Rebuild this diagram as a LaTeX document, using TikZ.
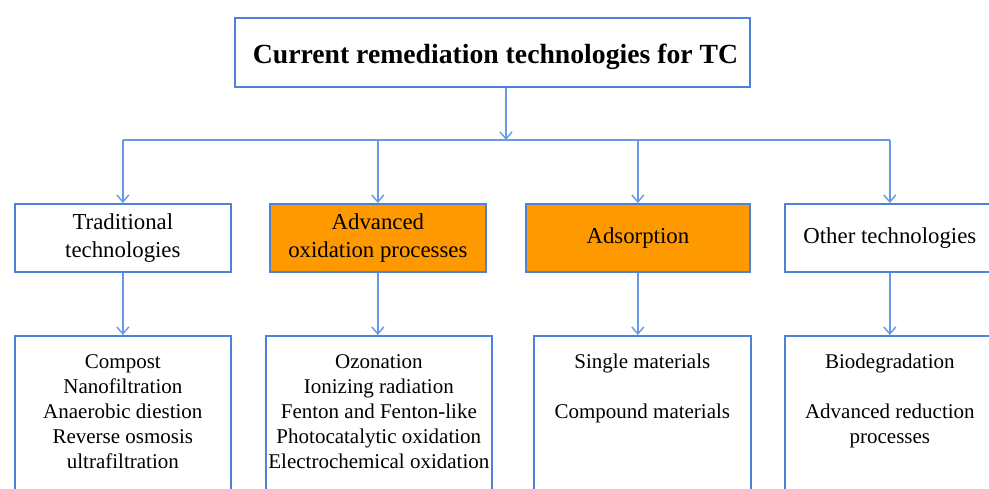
\documentclass[tikz,border=0pt]{standalone}
\usepackage{fontspec}
\setmainfont{Liberation Serif}
\usetikzlibrary{arrows.meta}
\definecolor{bordblue}{RGB}{79,129,217}
\definecolor{linkblue}{RGB}{105,152,230}
\definecolor{aoporange}{RGB}{255,153,0}
\begin{document}
\begin{tikzpicture}[x=1pt,y=-1pt,
  box/.style={draw=bordblue, line width=1.7pt, anchor=north west, inner sep=0pt, align=center},
  lvltwo/.style={box, minimum height=68pt, font=\fontsize{22.8}{28}\selectfont},
  lvlthree/.style={box, minimum height=200pt},
  link/.style={draw=linkblue, line width=1.4pt},
  arr/.style={link, -{Straight Barb[length=7pt,width=12pt,line width=1.4pt]}},
  items/.style={anchor=north, align=center, inner sep=0pt, font=\fontsize{21}{25}\selectfont}]
\useasboundingbox (0,0) rectangle (989,488);
\clip (0,0) rectangle (989,488);
\fill[white] (0,0) rectangle (989,488);

\node[box, line width=2pt, minimum width=515pt, minimum height=69pt,
      text height=27pt, text depth=6pt,
      font=\fontsize{27.7}{32}\selectfont\bfseries] (top) at (234,17)
      {\hspace{6pt}Current remediation technologies for TC};

\node[lvltwo, minimum width=216pt] (t1) at (14,203) {Traditional\\technologies};
\node[lvltwo, minimum width=216pt, fill=aoporange] (t2) at (269,203) {Advanced\\oxidation processes};
\node[lvltwo, minimum width=224pt, fill=aoporange] (t3) at (525,203) {Adsorption};
\node[lvltwo, minimum width=210pt] (t4) at (784,203) {Other technologies};

\node[lvlthree, minimum width=216pt] (b1) at (14,335) {};
\node[lvlthree, minimum width=226pt] (b2) at (265,335) {};
\node[lvlthree, minimum width=217pt] (b3) at (533,335) {};
\node[lvlthree, minimum width=210pt] (b4) at (784,335) {};

\node[items] (i1) at ([yshift=-19pt]b1.north) {Compost\\Nanofiltration\\Anaerobic diestion\\Reverse osmosis\\ultrafiltration};
\node[items] (i2) at ([yshift=-19pt]b2.north) {Ozonation\\Ionizing radiation\\Fenton and Fenton-like\\Photocatalytic oxidation\\Electrochemical oxidation};
\node[items] (i3) at ([yshift=-19pt]b3.north) {Single materials\\[25pt]Compound materials};
\node[items] (i4) at ([yshift=-19pt]b4.north) {Biodegradation\\[25pt]Advanced reduction\\processes};

\coordinate (j) at (506,140);
\draw[arr] (j |- top.south) -- (j);
\draw[link] (t1.north |- j) -- (t4.north |- j);
\foreach \k in {1,2,3,4} {
  \draw[arr] (t\k.north |- j) -- (t\k.north);
  \draw[arr] (t\k.south) -- (t\k.south |- b\k.north);
}
\end{tikzpicture}
\end{document}
